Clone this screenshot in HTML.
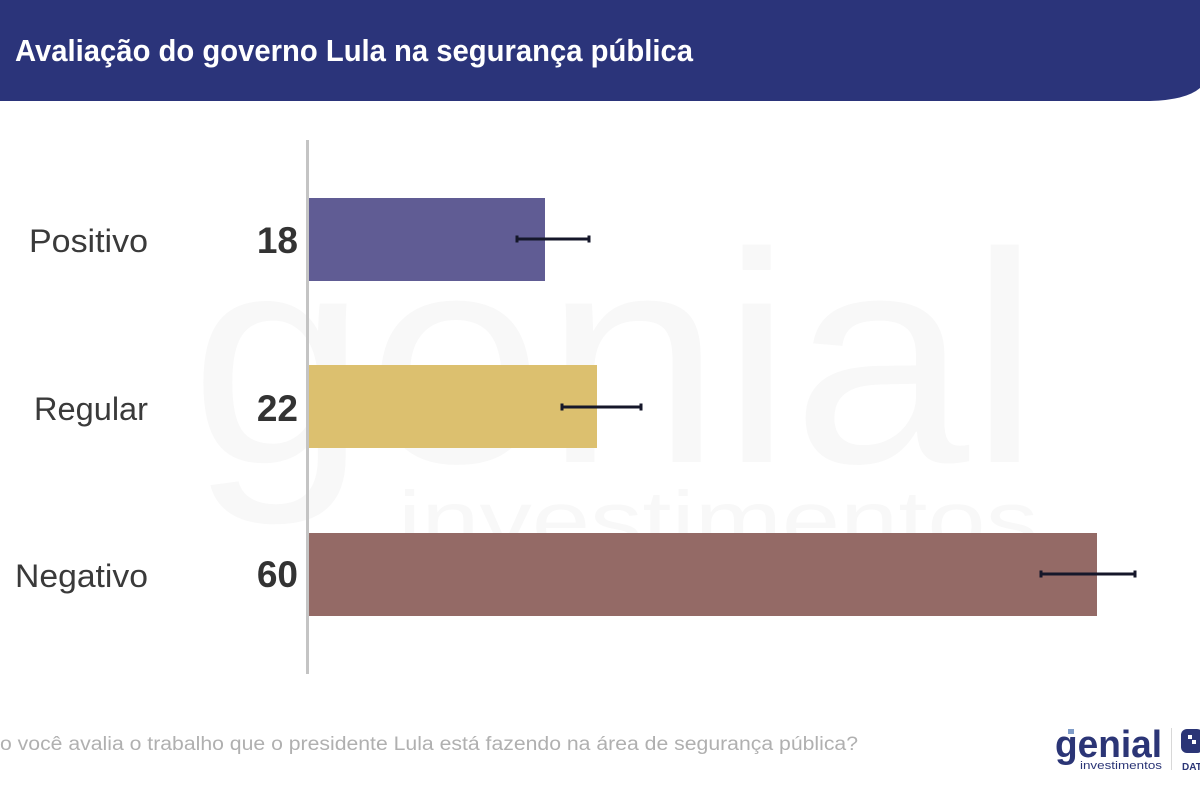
<!DOCTYPE html>
<html><head><meta charset="utf-8"><style>
html,body{margin:0;padding:0;background:#fff;}
svg{display:block;}
</style></head><body>
<svg width="1200" height="800" viewBox="0 0 1200 800" xmlns="http://www.w3.org/2000/svg">
<rect width="1200" height="800" fill="#ffffff"/>
<!-- watermark -->
<g fill="#f8f8f8" font-family="Liberation Sans, sans-serif">
<text x="190" y="462" font-size="300" textLength="850" lengthAdjust="spacingAndGlyphs">genial</text>
<text x="398" y="548" font-size="82" textLength="640" lengthAdjust="spacingAndGlyphs">investimentos</text>
</g>
<!-- header -->
<path d="M0 0 H1200 V88 Q1186 100 1150 101 H0 Z" fill="#2b347a"/>
<text x="15" y="61" font-family="Liberation Sans Narrow, Liberation Sans, sans-serif" font-weight="bold" font-size="31" fill="#ffffff" textLength="678" lengthAdjust="spacingAndGlyphs">Avaliação do governo Lula na segurança pública</text>
<!-- axis -->
<rect x="306" y="140" width="3" height="534" fill="#c4c4c4"/>
<!-- bars -->
<rect x="309" y="198" width="236" height="83" fill="#605c94"/>
<rect x="309" y="365" width="288" height="83" fill="#dcc06f"/>
<rect x="309" y="533" width="788" height="83" fill="#946a66"/>
<!-- error bars -->
<g stroke="#15172a" stroke-width="3">
<line x1="517" y1="239" x2="589" y2="239"/>
<line x1="517" y1="235.5" x2="517" y2="242.5"/>
<line x1="589" y1="235.5" x2="589" y2="242.5"/>
<line x1="562" y1="407" x2="641" y2="407"/>
<line x1="562" y1="403.5" x2="562" y2="410.5"/>
<line x1="641" y1="403.5" x2="641" y2="410.5"/>
<line x1="1041" y1="574" x2="1135" y2="574"/>
<line x1="1041" y1="570.5" x2="1041" y2="577.5"/>
<line x1="1135" y1="570.5" x2="1135" y2="577.5"/>
</g>
<!-- category labels -->
<g font-family="Liberation Sans, sans-serif" font-size="32" fill="#3a3a3a">
<text x="29" y="252" textLength="119" lengthAdjust="spacingAndGlyphs">Positivo</text>
<text x="34" y="420" textLength="114" lengthAdjust="spacingAndGlyphs">Regular</text>
<text x="15" y="587" textLength="133" lengthAdjust="spacingAndGlyphs">Negativo</text>
</g>
<g font-family="Liberation Sans, sans-serif" font-size="37" font-weight="bold" fill="#333333" text-anchor="end">
<text x="298" y="253">18</text>
<text x="298" y="421">22</text>
<text x="298" y="587">60</text>
</g>
<!-- footer -->
<text x="0" y="750" font-family="Liberation Sans, sans-serif" font-size="19" fill="#b0b0b0" textLength="858" lengthAdjust="spacingAndGlyphs">o você avalia o trabalho que o presidente Lula está fazendo na área de segurança pública?</text>
<text x="1055" y="757" font-family="Liberation Sans, sans-serif" font-size="38" font-weight="bold" fill="#2b3576" textLength="107" lengthAdjust="spacingAndGlyphs">genial</text>
<rect x="1068" y="729" width="6" height="5" fill="#7f9cc8"/>
<text x="1080" y="769" font-family="Liberation Sans, sans-serif" font-size="11" fill="#2b3576" textLength="82" lengthAdjust="spacingAndGlyphs">investimentos</text>
<rect x="1171" y="728" width="1" height="42" fill="#d8d8d8"/>
<rect x="1181" y="729" width="22" height="24" rx="6" fill="#2b3576"/>
<rect x="1188" y="735" width="4" height="4" fill="#ffffff"/>
<rect x="1192" y="740" width="4" height="4" fill="#ffffff"/>
<text x="1182" y="770" font-family="Liberation Sans, sans-serif" font-size="10" font-weight="bold" fill="#2b3576">DAT</text>
</svg>
</body></html>
